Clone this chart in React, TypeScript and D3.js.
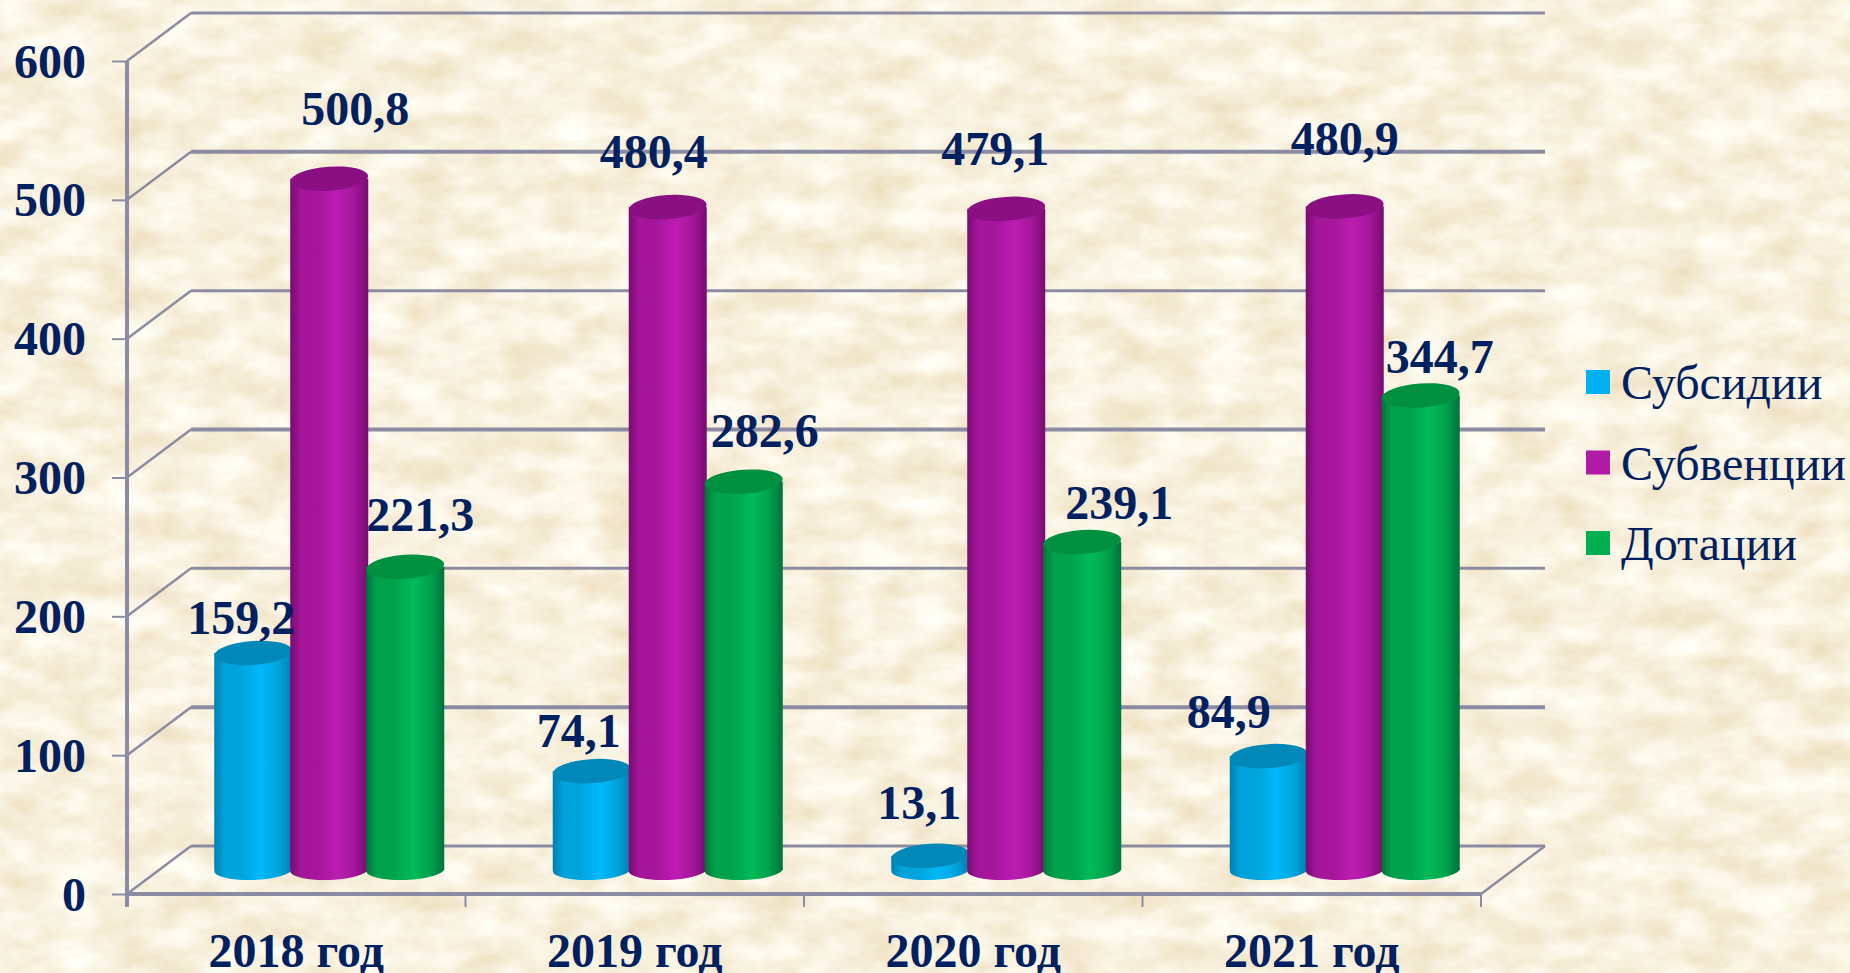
import { useEffect, useRef } from 'react'
import * as d3 from 'd3'

const years = ['2018 год', '2019 год', '2020 год', '2021 год']
const seriesNames = ['Субсидии', 'Субвенции', 'Дотации']
const subsidies = [159.2, 74.1, 13.1, 84.9]
const subventions = [500.8, 480.4, 479.1, 480.9]
const grants = [221.3, 282.6, 239.1, 344.7]
const valueTicks = [0, 100, 200, 300, 400, 500, 600]

// hand placed data labels, offset from the top of each cylinder
const labelDx = [[-12, -13, -11, -40], [26, -14, -11, 0], [15, 21, 37, 19]]
const labelDy = [[-30, -35, -48, -39], [-65, -50, -55, -62], [-47, -46, -34, -33]]

const sides = [
  { edge: '#007fb0', mid: '#00a4dc', bright: '#00b9fb', cap: '#0088b8' },
  { edge: '#760c6e', mid: '#a5169b', bright: '#bc1db2', cap: '#8a1082' },
  { edge: '#00733a', mid: '#00a24c', bright: '#00bb58', cap: '#009040' },
]
const swatches = ['#00b0f0', '#b01aa7', '#00b050']

const W = 1850, H = 973
const INK = '#002060', AXIS = '#8b8ca3', SERIF = '"Liberation Serif", serif'

export default function App() {
  const ref = useRef<SVGSVGElement>(null)

  useEffect(() => {
    const svg = d3.select(ref.current)
    svg.selectAll('*').remove()
    const values = [subsidies, subventions, grants]

    const defs = svg.append('defs')
    const paper = defs.append('filter').attr('id', 'paper')
      .attr('x', 0).attr('y', 0).attr('width', '100%').attr('height', '100%')
    paper.append('feTurbulence').attr('type', 'fractalNoise').attr('baseFrequency', '0.02 0.035')
      .attr('numOctaves', 6).attr('seed', 11).attr('result', 'n')
    paper.append('feColorMatrix').attr('in', 'n').attr('type', 'matrix')
      .attr('values', '0.22 0 0 0 0.83  0.36 0 0 0 0.70  0.55 0 0 0 0.46  0 0 0 0 1')

    sides.forEach((s, i) => {
      const g = defs.append('linearGradient').attr('id', `cyl${i}`)
      const stops: [number, string][] = [[0, s.edge], [0.14, s.mid], [0.35, s.mid], [0.6, s.bright], [0.82, s.mid], [1, s.edge]]
      stops.forEach(([o, c]) => g.append('stop').attr('offset', o).attr('stop-color', c))
    })

    svg.append('rect').attr('width', W).attr('height', H).attr('fill', '#f3e4c0').attr('filter', 'url(#paper)')

    const y = d3.scaleLinear().domain([0, 600]).range([894, 61])
    const x = d3.scaleBand().domain(years).range([127, 1481])
    const inner = d3.scaleBand().domain(seriesNames).range([0, x.bandwidth()]).paddingInner(0).paddingOuter(0.727)
    const depthX = 64, depthY = -48

    // back wall and side wall
    const walls = svg.append('g').attr('stroke', AXIS).attr('fill', 'none')
    valueTicks.forEach((t, i) => {
      const sw = i % 2 ? 4 : 3
      walls.append('line').attr('x1', 127).attr('y1', y(t)).attr('x2', 127 + depthX).attr('y2', y(t) + depthY).attr('stroke-width', 2.5)
      walls.append('line').attr('x1', 127 + depthX).attr('y1', y(t) + depthY).attr('x2', 1481 + depthX).attr('y2', y(t) + depthY).attr('stroke-width', sw)
    })
    walls.append('line').attr('x1', 1481).attr('y1', y(0)).attr('x2', 1481 + depthX).attr('y2', y(0) + depthY).attr('stroke-width', 2.5)

    // axes
    const axisL = svg.append('g').attr('transform', 'translate(127,0)')
      .call(d3.axisLeft(y).tickValues(valueTicks).tickSize(15).tickPadding(26))
    const axisB = svg.append('g').attr('transform', `translate(0,${y(0)})`)
      .call(d3.axisBottom(x).tickSize(0).tickPadding(50))
    axisL.select('.domain').attr('stroke', AXIS).attr('stroke-width', 4).attr('d', `M0,${y(600)}V907`)
    axisL.selectAll('.tick line').attr('stroke', AXIS).attr('stroke-width', 2)
    axisB.select('.domain').attr('stroke', AXIS).attr('stroke-width', 4).attr('d', 'M127,0H1481')
    axisB.selectAll('.tick line').remove()
    ;[...years.map(c => x(c) as number), 1481].forEach(px => {
      axisB.append('line').attr('x1', px).attr('x2', px).attr('y1', 0).attr('y2', 13)
        .attr('stroke', AXIS).attr('stroke-width', 2)
    })
    ;[axisL, axisB].forEach(a => a.selectAll('.tick text')
      .attr('fill', INK).attr('font-family', SERIF).attr('font-size', 48).attr('font-weight', 700))
    axisL.selectAll('.tick text').attr('dy', 16).attr('dx', 0)
    axisB.selectAll('.tick text').attr('dy', 0).attr('y', 73)

    // cylinders, back to front in series order
    const rx = inner.bandwidth() / 2 + 1, ry = 12, tilt = -4
    const barDx = depthX / 2 + 1, barDy = depthY / 2
    seriesNames.forEach((name, si) => {
      const g = svg.append('g')
      years.forEach((year, yi) => {
        const v = values[si][yi]
        const cx = (x(year) as number) + (inner(name) as number) + inner.bandwidth() / 2 + barDx
        const top = y(v) + barDy + 4, base = y(0) + barDy
        g.append('ellipse').attr('cx', cx).attr('cy', base).attr('rx', rx).attr('ry', 10)
          .attr('transform', `rotate(${tilt / 2},${cx},${base})`).attr('fill', `url(#cyl${si})`)
        g.append('rect').attr('x', cx - rx).attr('y', top).attr('width', rx * 2).attr('height', base - top)
          .attr('fill', `url(#cyl${si})`)
        g.append('ellipse').attr('cx', cx).attr('cy', top).attr('rx', rx).attr('ry', ry)
          .attr('transform', `rotate(${tilt},${cx},${top})`).attr('fill', sides[si].cap)
      })
    })

    // data labels sit above all the bars
    seriesNames.forEach((name, si) => {
      years.forEach((year, yi) => {
        const v = values[si][yi]
        const cx = (x(year) as number) + (inner(name) as number) + inner.bandwidth() / 2 + barDx
        svg.append('text').attr('x', cx + labelDx[si][yi]).attr('y', y(v) + barDy + labelDy[si][yi] + 15)
          .attr('text-anchor', 'middle').attr('fill', INK).attr('font-family', SERIF)
          .attr('font-size', 48).attr('font-weight', 700).text(d3.format('.1f')(v).replace('.', ','))
      })
    })

    // legend
    const legendY = d3.scalePoint().domain(seriesNames).range([399, 560])
    seriesNames.forEach((name, i) => {
      const ly = legendY(name) as number
      svg.append('rect').attr('x', 1586).attr('y', ly - 29).attr('width', 24).attr('height', 24).attr('fill', swatches[i])
      svg.append('text').attr('x', 1621).attr('y', ly).attr('fill', INK).attr('font-family', SERIF)
        .attr('font-size', 48).text(name)
    })
  }, [])

  return <svg ref={ref} width={W} height={H} style={{ position: 'absolute', left: 0, top: 0, display: 'block' }} />
}
